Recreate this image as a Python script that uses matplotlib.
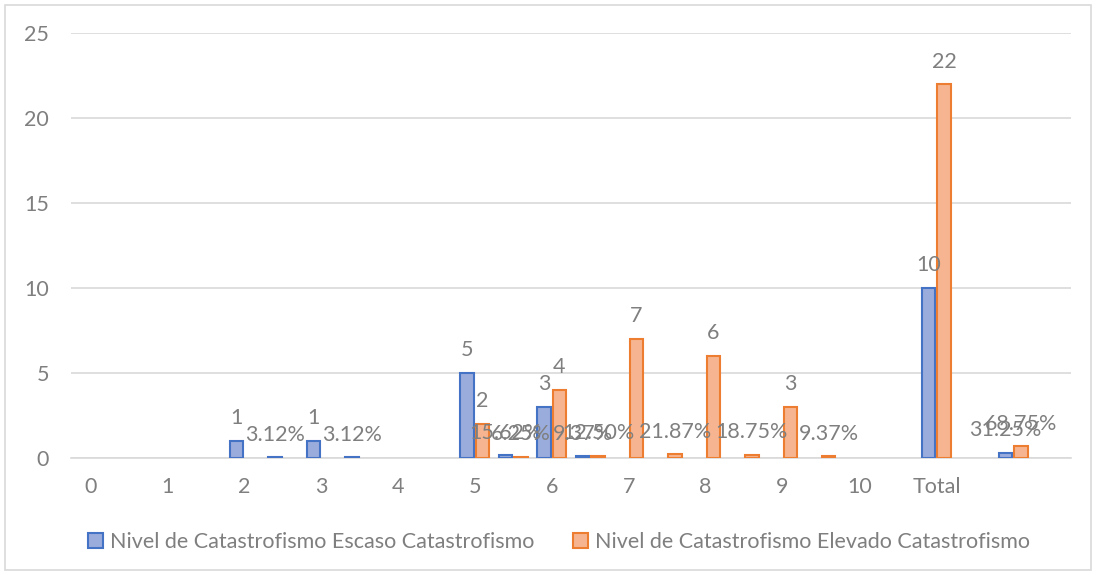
#!/usr/bin/env python3

import numpy as np
import matplotlib.pyplot as plt
from matplotlib.patches import Rectangle

plt.rcParams['font.family'] = ['Lato', 'DejaVu Sans']

# 26 slots: each score has a count slot followed by a percentage slot
categories = ['0', '', '1', '', '2', '', '3', '', '4', '', '5', '', '6', '', '7', '',
              '8', '', '9', '', '10', '', 'Total', '', '', '']
escaso = [0, 0, 0, 0, 1, 0.0312, 1, 0.0312, 0, 0, 5, 0.1562, 3, 0.0937, 0, 0,
          0, 0, 0, 0, 0, 0, 10, 0, 0.3125, 0]
elevado = [0, 0, 0, 0, 0, 0, 0, 0, 0, 0, 2, 0.0625, 4, 0.1250, 7, 0.2187,
           6, 0.1875, 3, 0.0937, 0, 0, 22, 0, 0.6875, 0]
is_pct = [False, True] * 11 + [False, False, True, False]

name_escaso = 'Nivel de Catastrofismo Escaso Catastrofismo'
name_elevado = 'Nivel de Catastrofismo Elevado Catastrofismo'

grey = '#7f7f7f'
fs = 15.5
x = np.arange(len(categories))
w = 0.35
off = 0.2

fig = plt.figure(figsize=(10.96, 5.75), dpi=100)
ax = fig.add_axes([0.0648, 0.2035, 0.9124, 0.7391])

# blank cells in the source table: draw nothing for them
def blanks(vals):
    v = np.array(vals, dtype=float)
    v[v == 0] = np.nan
    return v

b1 = ax.bar(x - off, blanks(escaso), w, color='#9aacdc', edgecolor='#4472c4', linewidth=1.5,
            label=name_escaso, zorder=3)
b2 = ax.bar(x + off, blanks(elevado), w, color='#f6b590', edgecolor='#ed7d31', linewidth=1.5,
            label=name_elevado, zorder=3)

for shift, vals in [(-off, escaso), (off, elevado)]:
    for xi, v, p in zip(x, vals, is_pct):
        if v == 0:
            continue
        txt = f'{v * 100:.2f}%' if p else f'{v:g}'
        ax.annotate(txt, (xi + shift, v),
                    xytext=(0, 9), textcoords='offset points',
                    ha='center', va='bottom', fontsize=fs, color=grey, zorder=4)

ax.set_xlim(-0.5, len(categories) - 0.5)
ax.set_ylim(0, 25)
ax.set_yticks(range(0, 26, 5))
ax.set_xticks(x)
ax.set_xticklabels(categories)
ax.grid(axis='y', color='#d9d9d9', linewidth=1.2, zorder=0)
for s in ['top', 'right', 'left']:
    ax.spines[s].set_visible(False)
ax.spines['bottom'].set_color('#d9d9d9')
ax.spines['bottom'].set_linewidth(1.2)
ax.tick_params(length=0, labelsize=fs, labelcolor=grey)
ax.tick_params(axis='x', pad=14)
ax.tick_params(axis='y', pad=16)

fig.legend(loc='center', bbox_to_anchor=(0.51, 0.058), ncol=2, frameon=False,
           fontsize=fs, labelcolor=grey, handlelength=0.7, handleheight=0.7,
           handletextpad=0.3, columnspacing=1.8)

fig.patches.append(Rectangle((0.005, 0.008), 0.99, 0.984, transform=fig.transFigure,
                             fill=False, edgecolor='#d9d9d9', linewidth=1.2))

fig.savefig('out.png', dpi=100)
